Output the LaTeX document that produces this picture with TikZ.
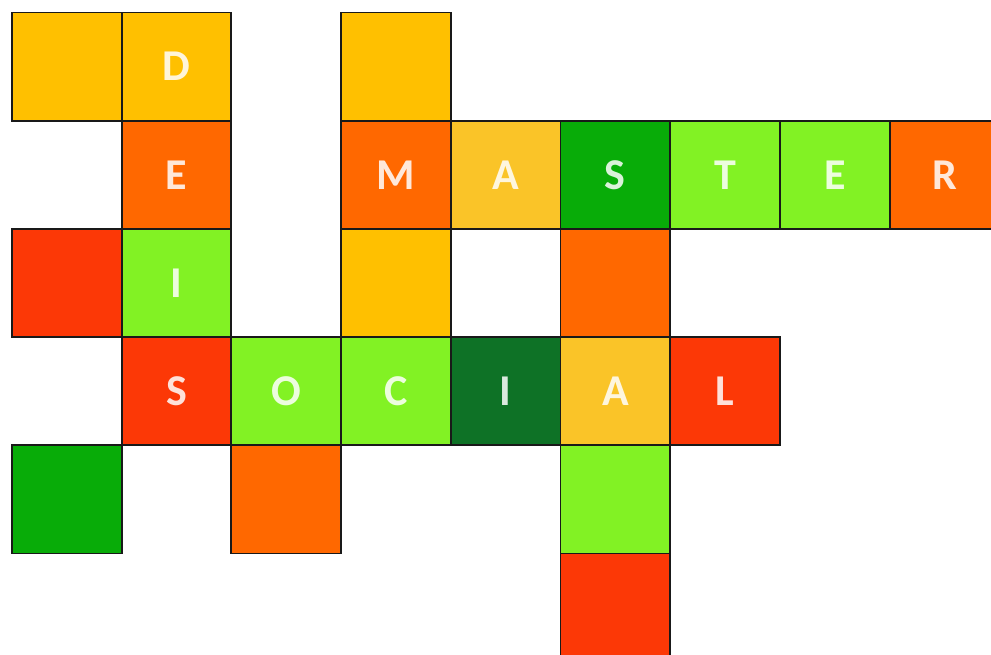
\documentclass[tikz,border=0pt]{standalone}
\usepackage{fontspec}
\setsansfont{Carlito}
\usepackage{tikz}
\usetikzlibrary{positioning}
\definecolor{goldFill}{RGB}{255,192,0}
\definecolor{orangeFill}{RGB}{255,104,0}
\definecolor{amberFill}{RGB}{250,196,40}
\definecolor{greenFill}{RGB}{8,172,8}
\definecolor{limeFill}{RGB}{130,242,36}
\definecolor{redFill}{RGB}{252,56,6}
\definecolor{forestFill}{RGB}{14,114,38}
\colorlet{ink}{black!90}
\tikzset{
  cell/.style={
    rectangle,
    draw=ink,
    line width=1.9pt,
    minimum width=109.7pt,
    minimum height=108.2pt,
    inner sep=0pt,
    outer sep=0pt,
    text=white,
    text opacity=0.85,
    font=\sffamily\bfseries\fontsize{44}{44}\selectfont
  },
  goldcell/.style={cell, fill=goldFill},
  orangecell/.style={cell, fill=orangeFill},
  ambercell/.style={cell, fill=amberFill},
  greencell/.style={cell, fill=greenFill},
  limecell/.style={cell, fill=limeFill},
  redcell/.style={cell, fill=redFill},
  forestcell/.style={cell, fill=forestFill}
}
\begin{document}
\begin{tikzpicture}[x=109.7pt,y=-108.2pt]
  \useasboundingbox (-0.1094,-0.1155) rectangle (8.9244,5.938);

  % DEIS column
  \node[goldcell] (topleft) at (0.5,0.5) {};
  \node[goldcell] (d) at (1.5,0.5) {D};
  \node[orangecell] (e) at (1.5,1.5) {E};
  \node[redcell] (leftred) at (0.5,2.5) {};
  \node[limecell] (i) at (1.5,2.5) {I};
  \node[greencell] (leftgreen) at (0.5,4.5) {};

  % MASTER row
  \node[goldcell] (topmid) at (3.5,0.5) {};
  \node[orangecell] (m) at (3.5,1.5) {M};
  \node[ambercell] (a) at (4.5,1.5) {A};
  \node[greencell] (s) at (5.5,1.5) {S};
  \node[limecell] (t) at (6.5,1.5) {T};
  \node[limecell] (e2) at (7.5,1.5) {E};
  \node[orangecell] (r) at (8.5,1.5) {R};
  \node[goldcell] (midgold) at (3.5,2.5) {};
  \node[orangecell] (midorange) at (5.5,2.5) {};

  % SOCIAL row
  \node[redcell] (s2) at (1.5,3.5) {S};
  \node[limecell] (o) at (2.5,3.5) {O};
  \node[limecell] (c) at (3.5,3.5) {C};
  \node[forestcell] (i2) at (4.5,3.5) {I};
  \node[ambercell] (a2) at (5.5,3.5) {A};
  \node[redcell] (l) at (6.5,3.5) {L};

  % below
  \node[orangecell] (loworange) at (2.5,4.5) {};
  \node[limecell] (lowlime) at (5.5,4.5) {};
  \node[redcell] (lowred) at (5.5,5.5) {};
\end{tikzpicture}
\end{document}
